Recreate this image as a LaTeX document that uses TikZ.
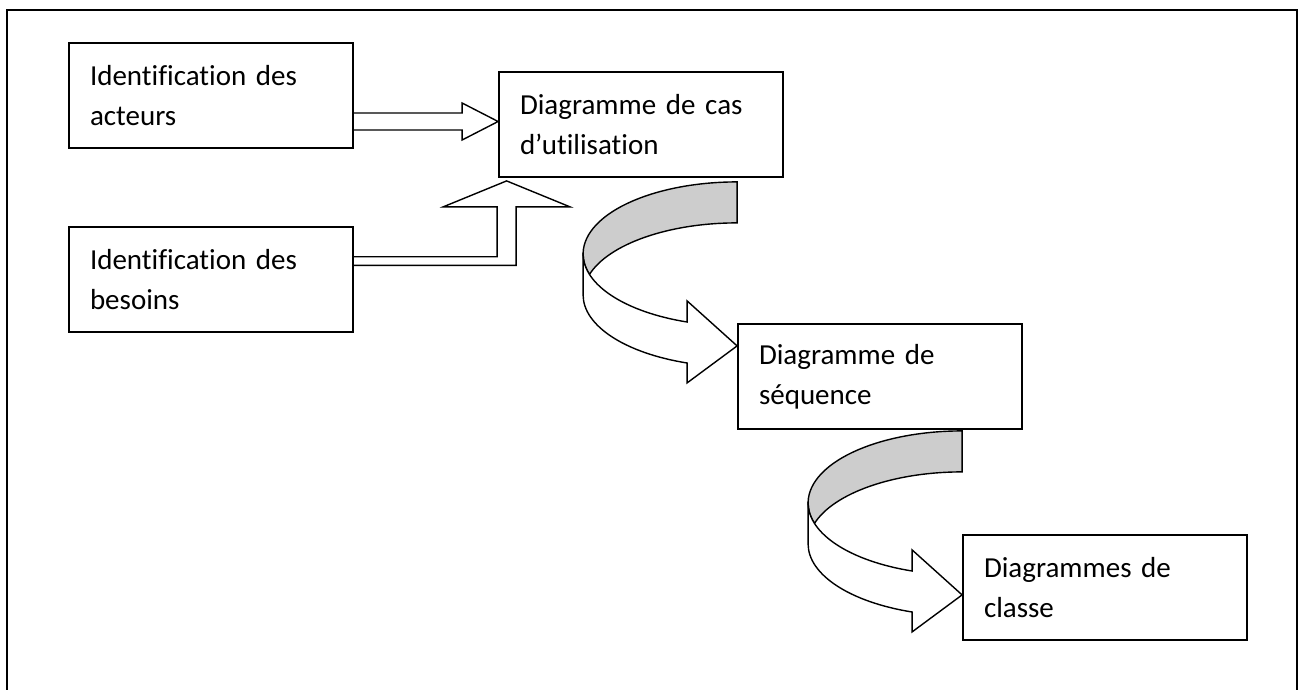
\documentclass[tikz,border=0pt]{standalone}
\usepackage{fontspec}
\setmainfont[Ligatures=NoCommon]{Carlito}
\usetikzlibrary{calc}

\definecolor{backgray}{RGB}{205,205,205}

\tikzset{
  stepbox/.style={draw, line width=1.8pt, minimum width=284pt, minimum height=105pt,
    text width=242pt, align=left, inner sep=0pt,
    font=\fontsize{29}{40}\selectfont},
  blockarrow/.style={draw, line width=1.4pt, line join=miter},
  % half-turn ribbon arrow: shaded back band, white front band with head
  pics/turnarrow/.style={code={
    \draw[blockarrow, fill=backgray]
      (0,-72) arc[start angle=-90, end angle=-196.54, x radius=154, y radius=72]
              arc[start angle=-163.46, end angle=-90, x radius=154, y radius=72]
      -- cycle;
    \draw[blockarrow, fill=white]
      (-154,0) -- (-154,41)
      arc[start angle=180, end angle=108.95, x radius=154, y radius=72]
      -- (-50,129) -- (0,92) -- (-50,47) -- (-50,68.1)
      arc[start angle=108.95, end angle=180, x radius=154, y radius=72]
      -- cycle;
  }}
}

\begin{document}
\begin{tikzpicture}[x=1pt,y=-1pt]
  \clip (0,0) rectangle (1299,689);
  \draw[line width=2pt] (7,10) rectangle (1297,730);

  % boxes
  \node[stepbox] (B1) at (211,95.5)  {Identification des\\acteurs};
  \node[stepbox] (B2) at (211,279.5) {Identification des\\besoins};
  \node[stepbox] (B3) at (641,124.5) {Diagramme de cas\\d’utilisation};
  \node[stepbox] (B4) at (880,376.5) {Diagramme de\\séquence};
  \node[stepbox] (B5) at (1105,587.5) {Diagrammes de\\classe};

  % straight block arrow: actors -> use cases
  \coordinate (t1) at ($(B3.west)+(0,-3)$);
  \draw[blockarrow]
    ($(B1.east |- t1)+(0,-8.5)$) -- ($(t1)+(-36,-8.5)$) -- ($(t1)+(-36,-18.5)$)
    -- (t1) -- ($(t1)+(-36,18.5)$) -- ($(t1)+(-36,8.5)$) -- ($(B1.east |- t1)+(0,8.5)$);

  % bent-up block arrow: needs -> use cases
  \coordinate (t2) at ($(B3.south west)+(8.5,3)$);
  \coordinate (s2) at ($(B2.east)+(0,-18.5)$);
  \draw[blockarrow]
    ($(s2)+(0,-4.3)$) -- ($(t2 |- s2)+(-9.5,-4.3)$) -- ($(t2)+(-9.5,26)$)
    -- ($(t2)+(-63.5,26)$) -- (t2) -- ($(t2)+(63.5,26)$) -- ($(t2)+(9.5,26)$)
    -- ($(t2 |- s2)+(9.5,4.3)$) -- ($(s2)+(0,4.3)$);

  % curved arrows between the diagrams
  \pic at ($(B4.west |- B3.south)+(0,76)$) {turnarrow};
  \pic at ($(B5.west |- B4.south)+(0,73)$) {turnarrow};
\end{tikzpicture}
\end{document}
